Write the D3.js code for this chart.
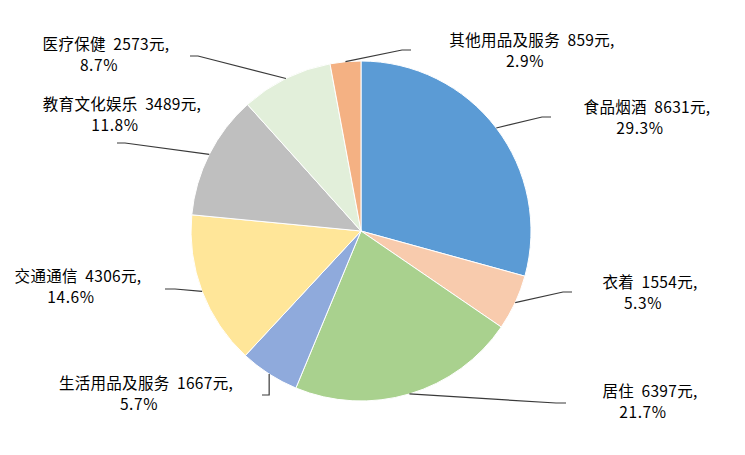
<!DOCTYPE html>
<html><head><meta charset="utf-8">
<script src="https://cdn.jsdelivr.net/npm/d3@7"></script>
<style>
html,body{margin:0;padding:0;background:#fff;}
svg{display:block;}
text{font-family:"Noto Sans CJK SC","Noto Sans",sans-serif;font-size:15.5px;fill:#000;}
</style></head>
<body>
<svg id="chart" width="745" height="455"></svg>
<script>
const categories = ["食品烟酒","衣着","居住","生活用品及服务","交通通信","教育文化娱乐","医疗保健","其他用品及服务"];
const values = [8631,1554,6397,1667,4306,3489,2573,859];
const colors = ["#5B9BD5","#F8CBAD","#A9D18E","#8FAADC","#FFE699","#BFBFBF","#E2EFDA","#F4B183"];

// label layout: center x of label, baseline y of first line, elbow point, end point
const labelPos = [
  {x:647,y:113, ex:542,ey:117, hx:551,hy:117},
  {x:650,y:288, ex:563,ey:292, hx:572,hy:292},
  {x:650,y:397, ex:556,ey:403, hx:566,hy:403},
  {x:146,y:389, ex:269,ey:395, hx:262,hy:395, vert:true},
  {x:78, y:282, ex:175,ey:289, hx:165,hy:289},
  {x:122,y:110, ex:125,ey:143, hx:117,hy:143},
  {x:106,y:50,  ex:198,ey:56,  hx:190,hy:56},
  {x:532,y:46,  ex:402,ey:50,  hx:411,hy:50}
];

const cx = 361, cy = 231, r = 170;
const total = d3.sum(values);
const data = categories.map((c,i)=>({name:c,value:values[i],color:colors[i],pos:labelPos[i]}));

const svg = d3.select("#chart");
const g = svg.append("g").attr("transform",`translate(${cx},${cy})`);

const pie = d3.pie().value(d=>d.value).sort(null);
const arc = d3.arc().innerRadius(0).outerRadius(r);
const edgeArc = d3.arc().innerRadius(r).outerRadius(r);
const arcs = pie(data);

g.selectAll("path.slice").data(arcs).enter().append("path")
  .attr("class","slice")
  .attr("d",arc)
  .attr("fill",d=>d.data.color)
  .attr("stroke","#fff")
  .attr("stroke-width",1);

// leader lines
arcs.forEach(d=>{
  const [sx,sy] = edgeArc.centroid(d);
  const p = d.data.pos;
  let pts;
  if (p.vert) {
    pts = [[cx+sx,cy+sy],[cx+sx,p.ey],[p.hx,p.hy]];
  } else {
    pts = [[cx+sx,cy+sy],[p.ex,p.ey],[p.hx,p.hy]];
  }
  svg.append("path")
    .attr("d", d3.line()(pts))
    .attr("fill","none")
    .attr("stroke","#3a3a3a")
    .attr("stroke-width",1.2);
});

// labels
arcs.forEach(d=>{
  const p = d.data.pos;
  const pct = (d.data.value/total*100).toFixed(1)+"%";
  const t = svg.append("text").attr("text-anchor","middle");
  t.append("tspan").attr("x",p.x).attr("y",p.y)
    .attr("letter-spacing","0.3px")
    .text(`${d.data.name}\u00a0\u00a0${d.data.value}元,`);
  t.append("tspan").attr("x",p.x-7).attr("y",p.y+21)
    .attr("letter-spacing","0.6px").text(pct);
});
</script>
</body></html>
